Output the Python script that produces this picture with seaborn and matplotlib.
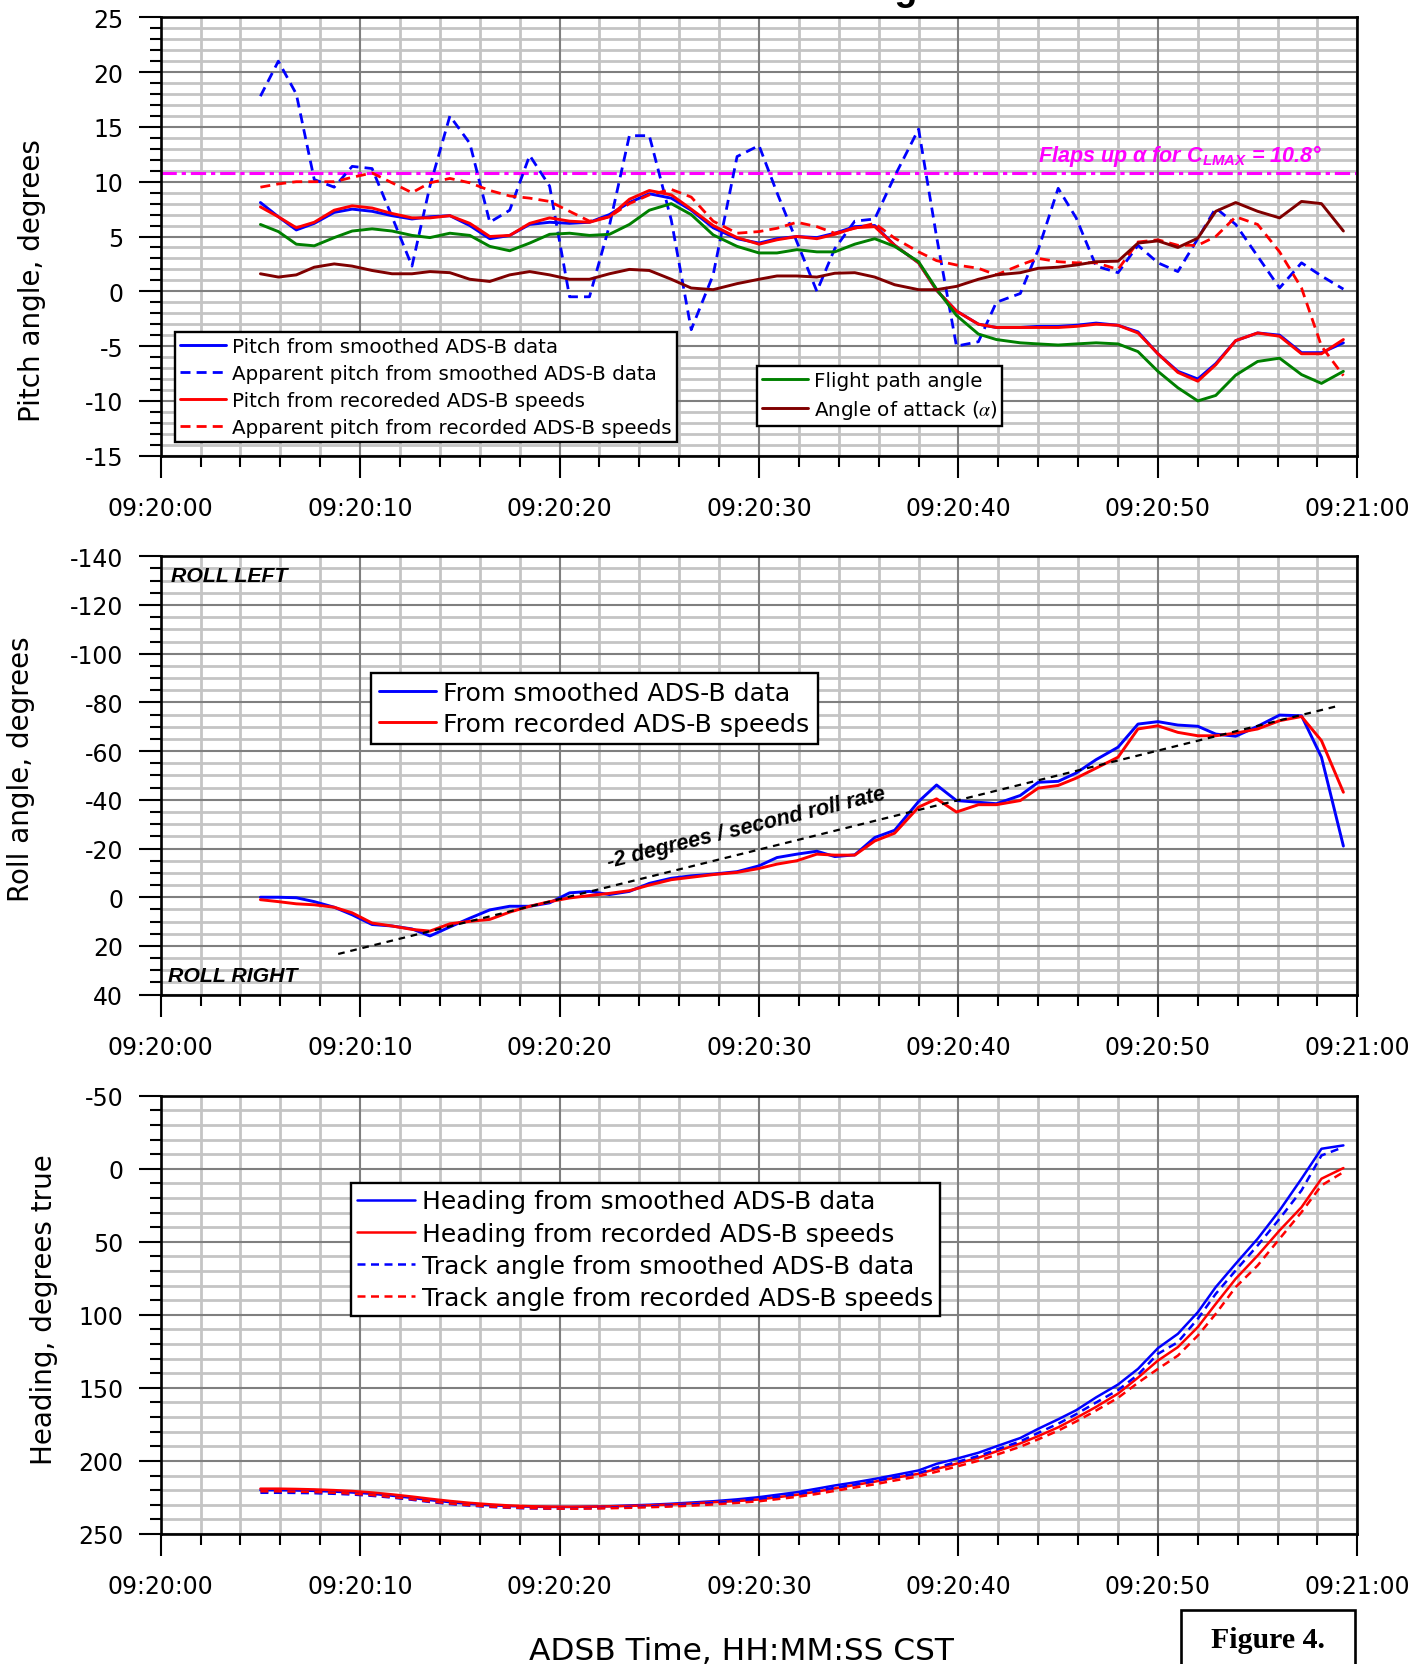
import math
import matplotlib
matplotlib.use("Agg")
import matplotlib.pyplot as plt
import seaborn as sns
from matplotlib.ticker import MultipleLocator
from matplotlib.patches import Rectangle

# ---------------- data (time in seconds after 09:20:00) ----------------
time_s = [5.0, 5.9, 6.8, 7.7, 8.7, 9.6, 10.6, 11.6, 12.6, 13.5, 14.5, 15.5, 16.5, 17.5, 18.5,
          19.5, 20.5, 21.5, 22.5, 23.5, 24.5, 25.6, 26.6, 27.7, 28.9, 30.0, 30.9, 31.9, 32.9, 33.8,
          34.8, 35.8, 36.8, 38.0, 38.9, 39.9, 41.0, 41.9, 43.1, 44.0, 45.0, 45.9, 46.9, 48.0, 49.0,
          50.0, 51.0, 52.0, 52.9, 53.9, 55.0, 56.1, 57.2, 58.2, 59.3]
time_tick_values = [0, 10, 20, 30, 40, 50, 60]
time_tick_labels = ["09:20:00", "09:20:10", "09:20:20", "09:20:30", "09:20:40", "09:20:50", "09:21:00"]

pitch_smoothed = [8.1, 6.8, 5.6, 6.2, 7.2, 7.5, 7.3, 6.9, 6.6, 6.8, 6.9, 6.0, 4.8, 5.1, 6.1,
                  6.3, 6.2, 6.3, 7.0, 8.1, 8.9, 8.5, 7.4, 5.8, 4.8, 4.4, 4.8, 5.0, 4.9, 5.3,
                  5.9, 6.0, 4.2, 2.6, 0.1, -1.8, -3.0, -3.3, -3.3, -3.2, -3.2, -3.1, -2.9, -3.1, -3.7,
                  -5.7, -7.3, -8.0, -6.6, -4.5, -3.8, -4.0, -5.6, -5.6, -4.7]
apparent_pitch_smoothed = [17.8, 21.0, 18.0, 10.2, 9.5, 11.4, 11.2, 6.8, 2.3, 9.6, 16.0, 13.5, 6.3, 7.4, 12.4,
                           9.6, -0.5, -0.5, 6.0, 14.2, 14.2, 6.5, -3.5, 1.5, 12.3, 13.3, 9.0, 4.5, 0.0, 3.9,
                           6.4, 6.6, 10.5, 14.8, 5.0, -5.0, -4.6, -1.0, -0.2, 3.8, 9.4, 6.7, 2.3, 1.7, 4.2,
                           2.6, 1.8, 4.8, 7.6, 6.1, 3.2, 0.3, 2.6, 1.4, 0.2]
pitch_recorded = [7.7, 6.8, 5.8, 6.3, 7.4, 7.8, 7.6, 7.1, 6.7, 6.7, 6.9, 6.2, 5.0, 5.1, 6.2,
                  6.7, 6.4, 6.3, 6.8, 8.4, 9.2, 8.8, 7.5, 6.0, 4.9, 4.3, 4.7, 5.0, 4.8, 5.2,
                  5.8, 5.9, 4.2, 2.6, 0.1, -1.8, -3.0, -3.3, -3.3, -3.3, -3.3, -3.2, -3.0, -3.1, -3.8,
                  -5.7, -7.4, -8.2, -6.7, -4.5, -3.8, -4.1, -5.7, -5.7, -4.4]
apparent_pitch_recorded = [9.5, 9.8, 10.0, 10.0, 10.0, 10.4, 10.8, 9.9, 9.0, 9.9, 10.3, 9.9, 9.2, 8.7, 8.5,
                           8.2, 7.3, 6.4, 6.8, 8.0, 8.8, 9.3, 8.6, 6.4, 5.3, 5.45, 5.75, 6.3, 5.9, 5.3,
                           5.75, 6.2, 4.85, 3.6, 2.8, 2.4, 2.1, 1.5, 2.4, 3.0, 2.7, 2.6, 2.6, 2.0, 4.5,
                           4.7, 4.2, 4.2, 5.0, 6.8, 6.1, 3.6, 0.3, -5.0, -7.7]
flight_path_angle = [6.1, 5.45, 4.3, 4.15, 4.9, 5.5, 5.7, 5.5, 5.1, 4.9, 5.3, 5.1, 4.1, 3.7, 4.4,
                     5.2, 5.3, 5.1, 5.2, 6.1, 7.4, 8.0, 7.0, 5.15, 4.1, 3.5, 3.5, 3.8, 3.6, 3.6,
                     4.3, 4.8, 4.1, 2.7, 0.2, -2.2, -3.9, -4.4, -4.7, -4.8, -4.9, -4.8, -4.7, -4.8, -5.5,
                     -7.3, -8.8, -10.0, -9.5, -7.65, -6.4, -6.1, -7.6, -8.4, -7.3]
angle_of_attack = [1.6, 1.3, 1.5, 2.2, 2.5, 2.3, 1.9, 1.6, 1.6, 1.8, 1.7, 1.1, 0.9, 1.5, 1.8,
                   1.5, 1.1, 1.1, 1.6, 2.0, 1.9, 1.1, 0.3, 0.15, 0.7, 1.1, 1.4, 1.4, 1.3, 1.65,
                   1.7, 1.3, 0.6, 0.15, 0.15, 0.45, 1.1, 1.5, 1.7, 2.1, 2.2, 2.4, 2.7, 2.75, 4.4,
                   4.6, 4.0, 4.85, 7.3, 8.1, 7.3, 6.7, 8.2, 8.0, 5.5]
flaps_up_alpha_clmax = 10.8

roll_smoothed = [0.0, 0.0, 0.2, 1.8, 4.1, 7.2, 11.2, 11.8, 13.0, 15.9, 12.2, 8.6, 5.2, 3.7, 3.7,
                 2.3, -1.8, -2.4, -1.1, -2.4, -5.7, -7.8, -8.8, -9.5, -10.5, -12.9, -16.3, -17.7, -18.9, -16.7,
                 -17.4, -24.5, -27.5, -39.3, -46.1, -39.7, -39.0, -38.4, -41.8, -47.2, -47.6, -51.0, -56.5, -61.6, -71.1,
                 -72.1, -70.7, -70.2, -67.0, -66.1, -70.2, -74.8, -74.5, -57.5, -21.0]
roll_recorded = [1.0, 1.8, 2.7, 3.1, 4.1, 6.4, 10.6, 11.8, 13.2, 13.9, 10.9, 9.9, 9.1, 6.1, 3.7,
                 1.8, 0.3, -0.7, -1.6, -2.7, -5.0, -7.2, -8.2, -9.3, -10.2, -11.8, -13.6, -15.0, -17.7, -17.3,
                 -17.3, -23.1, -26.3, -37.0, -40.4, -35.0, -38.0, -38.0, -39.7, -44.8, -45.9, -48.9, -53.0, -57.5, -69.1,
                 -70.4, -67.7, -66.3, -66.3, -67.4, -69.1, -72.5, -74.2, -64.3, -43.1]
roll_rate_time = [8.9, 59.1]
roll_rate_value = [23.3, -78.7]

heading_smoothed = [220.0, 220.0, 220.2, 220.5, 221.0, 221.6, 222.5, 223.8, 225.3, 226.8, 228.2, 229.4, 230.3, 230.9, 231.3,
                    231.5, 231.5, 231.3, 231.0, 230.5, 230.0, 229.3, 228.5, 227.6, 226.3, 224.8, 223.2, 221.4, 219.0, 216.8,
                    214.7, 212.3, 209.7, 206.5, 202.0, 198.5, 194.4, 190.0, 184.3, 178.0, 171.5, 165.3, 156.5, 147.7, 137.0,
                    122.8, 113.0, 98.2, 81.0, 65.0, 47.9, 28.5, 6.8, -13.7, -16.0]
heading_recorded = [219.0, 219.0, 219.2, 219.5, 220.0, 220.6, 221.6, 222.9, 224.4, 225.9, 227.4, 228.7, 229.7, 230.5, 231.0,
                    231.3, 231.4, 231.3, 231.1, 230.8, 230.4, 229.8, 229.1, 228.3, 227.5, 226.4, 224.9, 223.2, 221.0, 218.8,
                    216.5, 214.2, 211.6, 208.8, 205.5, 201.9, 197.8, 193.5, 188.0, 183.0, 177.0, 170.6, 163.0, 153.9, 143.0,
                    131.3, 122.1, 108.4, 92.5, 75.3, 59.4, 42.2, 26.3, 6.8, -0.5]
track_smoothed = [221.8, 221.8, 221.9, 222.1, 222.5, 223.0, 223.9, 225.1, 226.6, 228.1, 229.5, 230.6, 231.5, 232.1, 232.5,
                  232.7, 232.6, 232.4, 232.0, 231.6, 231.1, 230.5, 229.7, 228.8, 227.6, 226.0, 224.6, 222.8, 220.6, 218.4,
                  216.2, 213.8, 211.2, 208.3, 204.5, 200.8, 196.6, 192.3, 186.6, 180.8, 174.5, 168.0, 160.0, 151.5, 141.0,
                  126.7, 118.7, 102.7, 85.6, 69.6, 52.5, 34.2, 14.8, -9.1, -14.8]
track_recorded = [220.8, 220.8, 221.0, 221.3, 221.8, 222.4, 223.4, 224.7, 226.2, 227.7, 229.1, 230.3, 231.2, 231.9, 232.3,
                  232.6, 232.7, 232.6, 232.4, 232.1, 231.7, 231.2, 230.6, 229.8, 228.7, 227.6, 226.2, 224.6, 222.6, 220.5,
                  218.2, 216.0, 213.4, 210.6, 207.4, 203.9, 199.9, 195.8, 190.3, 185.2, 179.3, 173.0, 165.5, 156.8, 146.5,
                  137.0, 127.9, 114.2, 99.3, 81.0, 66.2, 47.9, 29.7, 11.4, 2.3]

pitch_ticks = [-15, -10, -5, 0, 5, 10, 15, 20, 25]
roll_ticks = [-140, -120, -100, -80, -60, -40, -20, 0, 20, 40]
heading_ticks = [-50, 0, 50, 100, 150, 200, 250]

# ---------------- style ----------------
BLUE, RED, GREEN, MAROON, MAGENTA = "#0000FF", "#FF0000", "#008000", "#800000", "#FF00FF"
MAJOR_GRID, MINOR_GRID = "#7F7F7F", "#C4C4C4"

sns.set_theme(style="white")
plt.rcParams.update({
    "font.family": ["DejaVu Sans"],
    "axes.unicode_minus": False,
    "mathtext.rm": "Liberation Sans:bold:italic",
    "mathtext.it": "Liberation Sans:bold:italic",
    "mathtext.bf": "Liberation Sans:bold:italic",
    "axes.edgecolor": "black",
    "text.color": "black",
})

fig = plt.figure(figsize=(14.27, 16.65), dpi=100)
ax_p = fig.add_axes([0.1126, 0.7257, 0.8386, 0.2633])
ax_r = fig.add_axes([0.1126, 0.4020, 0.8386, 0.2633])
ax_h = fig.add_axes([0.1126, 0.0781, 0.8386, 0.2632])


def style_axes(ax, ylim, yticks, yminor):
    ax.set_facecolor("white")
    ax.set_xlim(0, 60)
    ax.set_ylim(*ylim)
    ax.set_xticks(time_tick_values)
    ax.set_xticklabels(time_tick_labels)
    ax.xaxis.set_minor_locator(MultipleLocator(2))
    ax.set_yticks(yticks)
    ax.set_yticklabels([str(v) for v in yticks])
    ax.yaxis.set_minor_locator(MultipleLocator(yminor))
    ax.set_axisbelow(True)
    ax.grid(True, which="minor", color=MINOR_GRID, linewidth=2.0)
    ax.grid(False, which="major")
    # major grid drawn on top of the light minor grid
    for v in time_tick_values:
        ax.axvline(v, color=MAJOR_GRID, linewidth=1.5, zorder=0.8)
    for v in yticks:
        ax.axhline(v, color=MAJOR_GRID, linewidth=1.5, zorder=0.8)
    ax.tick_params(which="both", direction="out", width=1.5, color="black",
                   bottom=True, left=True, top=False, right=False)
    ax.tick_params(which="major", length=16, labelsize=17, labelcolor="black")
    ax.tick_params(which="minor", length=8)
    ax.tick_params(axis="x", which="major", pad=13)
    ax.tick_params(axis="y", which="major", pad=11)
    for s in ax.spines.values():
        s.set_color("black")
        s.set_linewidth(1.9)
        s.set_zorder(3)


def draw(ax, x, y, color, lw, dashes=None):
    kw = {}
    if dashes is not None:
        kw["linestyle"] = (0, dashes)
    sns.lineplot(x=x, y=y, ax=ax, color=color, linewidth=lw, legend=False,
                 sort=False, estimator=None, **kw)
    return ax.lines[-1]


def frame_legend(leg):
    fr = leg.get_frame()
    fr.set_edgecolor("black")
    fr.set_linewidth(1.7)
    fr.set_alpha(1)


# ---------------- pitch panel ----------------
style_axes(ax_p, (-15, 25), pitch_ticks, 1)
ax_p.axhline(flaps_up_alpha_clmax, color=MAGENTA, linewidth=2.2, linestyle=(0, (5, 1.6, 1.4, 1.6)))
l_ps = draw(ax_p, time_s, pitch_smoothed, BLUE, 2.1)
l_aps = draw(ax_p, time_s, apparent_pitch_smoothed, BLUE, 2.0, (3.6, 2.2))
l_pr = draw(ax_p, time_s, pitch_recorded, RED, 2.1)
l_apr = draw(ax_p, time_s, apparent_pitch_recorded, RED, 2.0, (3.6, 2.2))
l_fpa = draw(ax_p, time_s, flight_path_angle, GREEN, 2.1)
l_aoa = draw(ax_p, time_s, angle_of_attack, MAROON, 2.1)

ax_p.text(44.0, 11.9, "Flaps up $\\alpha$ for C$_{LMAX}$ = 10.8°", color=MAGENTA,
          fontsize=15.5, fontweight="bold", fontstyle="italic", family="Liberation Sans",
          ha="left", va="baseline", math_fontfamily="custom")

leg1 = ax_p.legend(handles=[l_ps, l_aps, l_pr, l_apr],
                   labels=["Pitch from smoothed ADS-B data",
                           "Apparent pitch from smoothed ADS-B data",
                           "Pitch from recoreded ADS-B speeds",
                           "Apparent pitch from recorded ADS-B speeds"],
                   loc="upper left", bbox_to_anchor=(0.0123, 0.2815), fontsize=14.3,
                   frameon=True, fancybox=False, framealpha=1, borderpad=0.25,
                   handlelength=2.3, handletextpad=0.3, labelspacing=0.4, borderaxespad=0)
frame_legend(leg1)
ax_p.add_artist(leg1)
leg2 = ax_p.legend(handles=[l_fpa, l_aoa],
                   labels=["Flight path angle", "Angle of attack ($\\alpha$)"],
                   loc="upper left", bbox_to_anchor=(0.4983, 0.2039), fontsize=14.3,
                   frameon=True, fancybox=False, framealpha=1, borderpad=0.25,
                   handlelength=2.3, handletextpad=0.3, labelspacing=0.4, borderaxespad=0)
for t in leg2.get_texts():
    t.set_math_fontfamily("stix")
frame_legend(leg2)

ax_p.set_xlabel("")
ax_p.set_ylabel("Pitch angle, degrees", fontsize=20, color="black")
ax_p.yaxis.set_label_coords(-0.0959, 0.401)

# ---------------- roll panel ----------------
style_axes(ax_r, (40, -140), roll_ticks, 5)
l_rs = draw(ax_r, time_s, roll_smoothed, BLUE, 2.1)
l_rr = draw(ax_r, time_s, roll_recorded, RED, 2.1)
draw(ax_r, roll_rate_time, roll_rate_value, "black", 1.6, (3.0, 2.6))

p1 = ax_r.transData.transform((roll_rate_time[0], roll_rate_value[0]))
p2 = ax_r.transData.transform((roll_rate_time[1], roll_rate_value[1]))
ang = math.degrees(math.atan2(p2[1] - p1[1], p2[0] - p1[0]))
ax_r.text(29.45, -26.6, "-2 degrees / second roll rate", rotation=ang, rotation_mode="anchor",
          ha="center", va="baseline", fontsize=15.5, fontweight="bold", fontstyle="italic",
          family="Liberation Sans")
ax_r.text(0.5, -132, "ROLL LEFT", ha="left", va="center", fontsize=15.3, fontweight="bold",
          fontstyle="italic", family="Liberation Sans")
ax_r.text(0.35, 32.2, "ROLL RIGHT", ha="left", va="center", fontsize=15.3, fontweight="bold",
          fontstyle="italic", family="Liberation Sans")

leg3 = ax_r.legend(handles=[l_rs, l_rr],
                   labels=["From smoothed ADS-B data", "From recorded ADS-B speeds"],
                   loc="upper left", bbox_to_anchor=(0.1757, 0.7338), fontsize=18.2,
                   frameon=True, fancybox=False, framealpha=1, borderpad=0.32,
                   handlelength=2.25, handletextpad=0.3, labelspacing=0.28, borderaxespad=0)
frame_legend(leg3)
ax_r.set_xlabel("")
ax_r.set_ylabel("Roll angle, degrees", fontsize=20, color="black")
ax_r.yaxis.set_label_coords(-0.105, 0.516)

# ---------------- heading panel ----------------
style_axes(ax_h, (250, -50), heading_ticks, 10)
l_hs = draw(ax_h, time_s, heading_smoothed, BLUE, 1.8)
l_hr = draw(ax_h, time_s, heading_recorded, RED, 1.8)
l_ts = draw(ax_h, time_s, track_smoothed, BLUE, 1.8, (3.2, 2.2))
l_tr = draw(ax_h, time_s, track_recorded, RED, 1.8, (3.2, 2.2))

leg4 = ax_h.legend(handles=[l_hs, l_hr, l_ts, l_tr],
                   labels=["Heading from smoothed ADS-B data",
                           "Heading from recorded ADS-B speeds",
                           "Track angle from smoothed ADS-B data",
                           "Track angle from recorded ADS-B speeds"],
                   loc="upper left", bbox_to_anchor=(0.1592, 0.8008), fontsize=18,
                   frameon=True, fancybox=False, framealpha=1, borderpad=0.25,
                   handlelength=2.3, handletextpad=0.3, labelspacing=0.33, borderaxespad=0)
frame_legend(leg4)
ax_h.set_xlabel("")
ax_h.set_ylabel("Heading, degrees true", fontsize=20, color="black")
ax_h.yaxis.set_label_coords(-0.0862, 0.514)

# ---------------- figure texts ----------------
fig.text(741 / 1427, 1 - 1660 / 1665, "ADSB Time, HH:MM:SS CST", ha="center", va="baseline",
         fontsize=22.5)
fig.text(786 / 1427, 1 - 0.3 / 1665, "Pitch and roll angles", ha="center", va="baseline",
         fontsize=27, fontweight="bold", family="Liberation Sans")
fig.patches.append(Rectangle((1181 / 1427, -0.01), (1354.6 - 1181) / 1427, 0.0324 + 0.01,
                             transform=fig.transFigure, fill=False, edgecolor="black",
                             linewidth=1.9))
fig.text(1268 / 1427, 1 - 1648 / 1665, "Figure 4.", ha="center", va="baseline",
         fontsize=21.5, fontweight="bold", family="Liberation Serif")

fig.savefig("out.png", dpi=100, facecolor="white")
